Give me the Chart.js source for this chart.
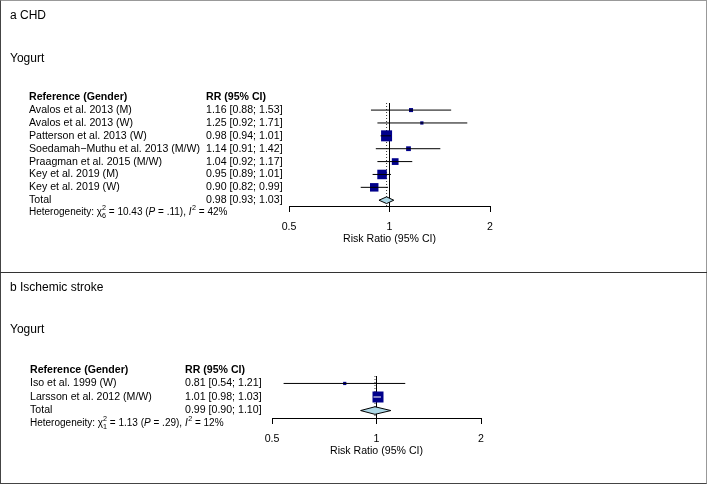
<!DOCTYPE html>
<html>
<head>
<meta charset="utf-8">
<script src="https://cdn.jsdelivr.net/npm/chart.js@4.4.0/dist/chart.umd.min.js"></script>
<style>
  html, body { margin: 0; padding: 0; background: #fff; }
  #frame { position: absolute; left: 0; top: 0; width: 707px; height: 484px; box-sizing: border-box;
           border-top: 1px solid #999; border-right: 1px solid #999; border-left: 1px solid #444; border-bottom: 1px solid #444; }
  #divider { position: absolute; left: 0; top: 272px; width: 707px; height: 1px; background: #333; }
  canvas { position: absolute; left: 0; }
</style>
</head>
<body>
<div id="frame"></div>
<canvas id="chartA" width="707" height="272" style="top:0px"></canvas>
<canvas id="chartB" width="707" height="210" style="top:273px"></canvas>
<div id="divider"></div>
<script>
// ---------- data ----------
const columnHeaders = ['Reference (Gender)', 'RR (95% CI)'];
const xTicks = [0.5, 1, 2];
const axisTitle = 'Risk Ratio (95% CI)';

// Panel a: CHD
const chdStudies = ['Avalos et al. 2013 (M)', 'Avalos et al. 2013 (W)', 'Patterson et al. 2013 (W)',
  'Soedamah\u2212Muthu et al. 2013 (M/W)', 'Praagman et al. 2015 (M/W)', 'Key et al. 2019 (M)', 'Key et al. 2019 (W)'];
const chdRR    = [1.16, 1.25, 0.98, 1.14, 1.04, 0.95, 0.90];
const chdLower = [0.88, 0.92, 0.94, 0.91, 0.92, 0.89, 0.82];
const chdUpper = [1.53, 1.71, 1.01, 1.42, 1.17, 1.01, 0.99];
const chdWeight = [4.3, 2.8, 32, 6, 12, 24, 19];
const chdTotal = [0.98, 0.93, 1.03];          // estimate, lower, upper
const chdHet = ['10.43', '6', '.11', '42'];   // chi2, df, P, I2

// Panel b: Ischemic stroke
const strokeStudies = ['Iso et al. 1999 (W)', 'Larsson et al. 2012 (M/W)'];
const strokeRR    = [0.81, 1.01];
const strokeLower = [0.54, 0.98];
const strokeUpper = [1.21, 1.03];
const strokeWeight = [8, 92];
const strokeTotal = [0.99, 0.90, 1.10];
const strokeHet = ['1.13', '1', '.29', '12'];

// ---------- drawing ----------
const FONT = '"Liberation Sans", Arial, Helvetica, sans-serif';
const FS = 10.6;

function drawHet(ctx, x, y, het, fs) {
  const base = fs + 'px ' + FONT, ital = 'italic ' + fs + 'px ' + FONT, small = (fs * 0.72) + 'px ' + FONT;
  const put = (t, font, dy) => { ctx.font = font; ctx.fillText(t, x, y + (dy || 0)); return ctx.measureText(t).width; };
  x += put('Heterogeneity: ', base);
  x += put('\u03C7', base);
  ctx.font = small;
  const w1 = ctx.measureText('2').width, w2 = ctx.measureText(het[1]).width;
  put('2', small, -fs * 0.42);
  put(het[1], small, fs * 0.32);
  x += Math.max(w1, w2);
  x += put(' = ' + het[0] + ' (', base);
  x += put('P', ital);
  x += put(' = ' + het[2] + '), ', base);
  x += put('I', ital) + 0.5;
  x += put('2', small, -fs * 0.42);
  put(' = ' + het[3] + '%', base);
}

const forestText = {
  id: 'forestText',
  afterDraw(chart, args, o) {
    const ctx = chart.ctx, ys = chart.scales.y;
    ctx.save();
    ctx.fillStyle = '#000';
    ctx.textBaseline = 'middle';
    ctx.textAlign = 'left';
    ctx.font = o.titleSize + 'px ' + FONT;
    ctx.fillText(o.title, 10, o.titleY);
    ctx.fillText(o.subgroup, 10, o.subY);
    const hy = ys.getPixelForValue(-1);
    ctx.font = 'bold ' + FS + 'px ' + FONT;
    ctx.fillText(columnHeaders[0], o.colName, hy);
    ctx.fillText(columnHeaders[1], o.colRR, hy);
    ctx.font = FS + 'px ' + FONT;
    const fmt = (a, b, c) => a.toFixed(2) + ' [' + b.toFixed(2) + '; ' + c.toFixed(2) + ']';
    o.studies.forEach((s, i) => {
      const yy = ys.getPixelForValue(i);
      ctx.fillText(s, o.colName, yy);
      ctx.fillText(fmt(o.rr[i], o.lower[i], o.upper[i]), o.colRR, yy);
    });
    const n = o.studies.length;
    const ty = ys.getPixelForValue(n);
    ctx.fillText('Total', o.colName, ty);
    ctx.fillText(fmt(o.total[0], o.total[1], o.total[2]), o.colRR, ty);
    drawHet(ctx, o.colName, ys.getPixelForValue(n + 1) - 0.5, o.het, 10);
    ctx.restore();
  }
};

function buildPanel(id, p) {
  const n = p.studies.length;
  const totalRow = n;
  const wmax = Math.max.apply(null, p.weight);
  const sides = p.weight.map(w => 11 * Math.sqrt(w / wmax));
  const squares = p.rr.map((v, i) => ({ x: v, y: i }));
  const ci = [];
  p.lower.forEach((l, i) => { ci.push({ x: l, y: i }, { x: p.upper[i], y: i }, { x: NaN, y: NaN }); });
  const est = p.total[0], tlo = p.total[1], thi = p.total[2];
  const dh = p.dh;
  const diamond = [{ x: tlo, y: totalRow }, { x: est, y: totalRow - dh }, { x: thi, y: totalRow },
                   { x: est, y: totalRow + dh }, { x: tlo, y: totalRow }];
  return new Chart(document.getElementById(id), {
    type: 'scatter',
    data: {
      datasets: [
        { label: 'ref', data: [{ x: 1, y: p.yMin }, { x: 1, y: p.yMax }], showLine: true,
          borderColor: '#000', borderWidth: 1, pointRadius: 0, order: 5 },
        { label: 'pooled', data: [{ x: est, y: p.yMin }, { x: est, y: p.yMax }], showLine: true,
          borderColor: '#333', borderWidth: 1, borderDash: [1, 2], pointRadius: 0, order: 4 },
        { label: 'diamond', data: diamond, showLine: true, fill: 'shape', backgroundColor: '#ADD8E6',
          borderColor: '#000', borderWidth: 1, pointRadius: 0, tension: 0, order: 3 },
        { label: 'squares', data: squares, pointStyle: 'rect', pointRadius: sides.map(s => s / Math.SQRT2),
          pointBackgroundColor: '#00008B', pointBorderColor: '#00008B', pointBorderWidth: 0, order: 2 },
        { label: 'ci', data: ci, showLine: true, spanGaps: false, pointRadius: 0, borderWidth: 1,
          borderColor: '#000', order: 1,
          segment: {
            borderColor: ctx => {
              const i = Math.floor(ctx.p0DataIndex / 3);
              const c = ctx.chart.scales.x.getPixelForValue(p.rr[i]);
              const h = sides[i] / 2;
              const a = Math.min(ctx.p0.x, ctx.p1.x), b = Math.max(ctx.p0.x, ctx.p1.x);
              return (a >= c - h && b <= c + h) ? '#fff' : '#000';
            }
          } }
      ]
    },
    options: {
      responsive: false, animation: false, events: [],
      layout: { padding: { left: p.left, right: p.right, top: p.top, bottom: p.bottom } },
      plugins: {
        legend: { display: false }, tooltip: { enabled: false },
        forestText: { title: p.title, titleY: p.titleY, subgroup: 'Yogurt', subY: p.subY, titleSize: 12,
          colName: p.colName, colRR: p.colRR, studies: p.studies, rr: p.rr, lower: p.lower, upper: p.upper,
          total: p.total, het: p.het }
      },
      scales: {
        x: {
          type: 'logarithmic', min: 0.5, max: 2,
          afterBuildTicks: s => { s.ticks = xTicks.map(v => ({ value: v })); },
          afterFit: s => { s.height = 39; },
          ticks: { callback: v => String(v), color: '#000', font: { family: FONT, size: FS }, padding: 9,
                   maxRotation: 0, autoSkip: false },
          grid: { drawOnChartArea: false, drawTicks: true, tickLength: 6, color: '#000', lineWidth: 1 },
          border: { display: true, color: '#000', width: 1 },
          title: { display: true, text: axisTitle, color: '#000', font: { family: FONT, size: FS }, padding: 0 }
        },
        y: { type: 'linear', display: false, reverse: true, min: p.yMin, max: p.yMax }
      }
    },
    plugins: [forestText]
  });
}

buildPanel('chartA', {
  title: 'a CHD', titleY: 16, subY: 59, colName: 29, colRR: 206,
  studies: chdStudies, rr: chdRR, lower: chdLower, upper: chdUpper, weight: chdWeight,
  total: chdTotal, het: chdHet, dh: 0.26,
  yMin: -0.55, yMax: 7.45, left: 289, right: 217, top: 103, bottom: 27
});
buildPanel('chartB', {
  title: 'b Ischemic stroke', titleY: 15, subY: 57, colName: 30, colRR: 185,
  studies: strokeStudies, rr: strokeRR, lower: strokeLower, upper: strokeUpper, weight: strokeWeight,
  total: strokeTotal, het: strokeHet, dh: 0.28,
  yMin: -0.55, yMax: 2.55, left: 272, right: 226, top: 103, bottom: 26
});
</script>
</body>
</html>
